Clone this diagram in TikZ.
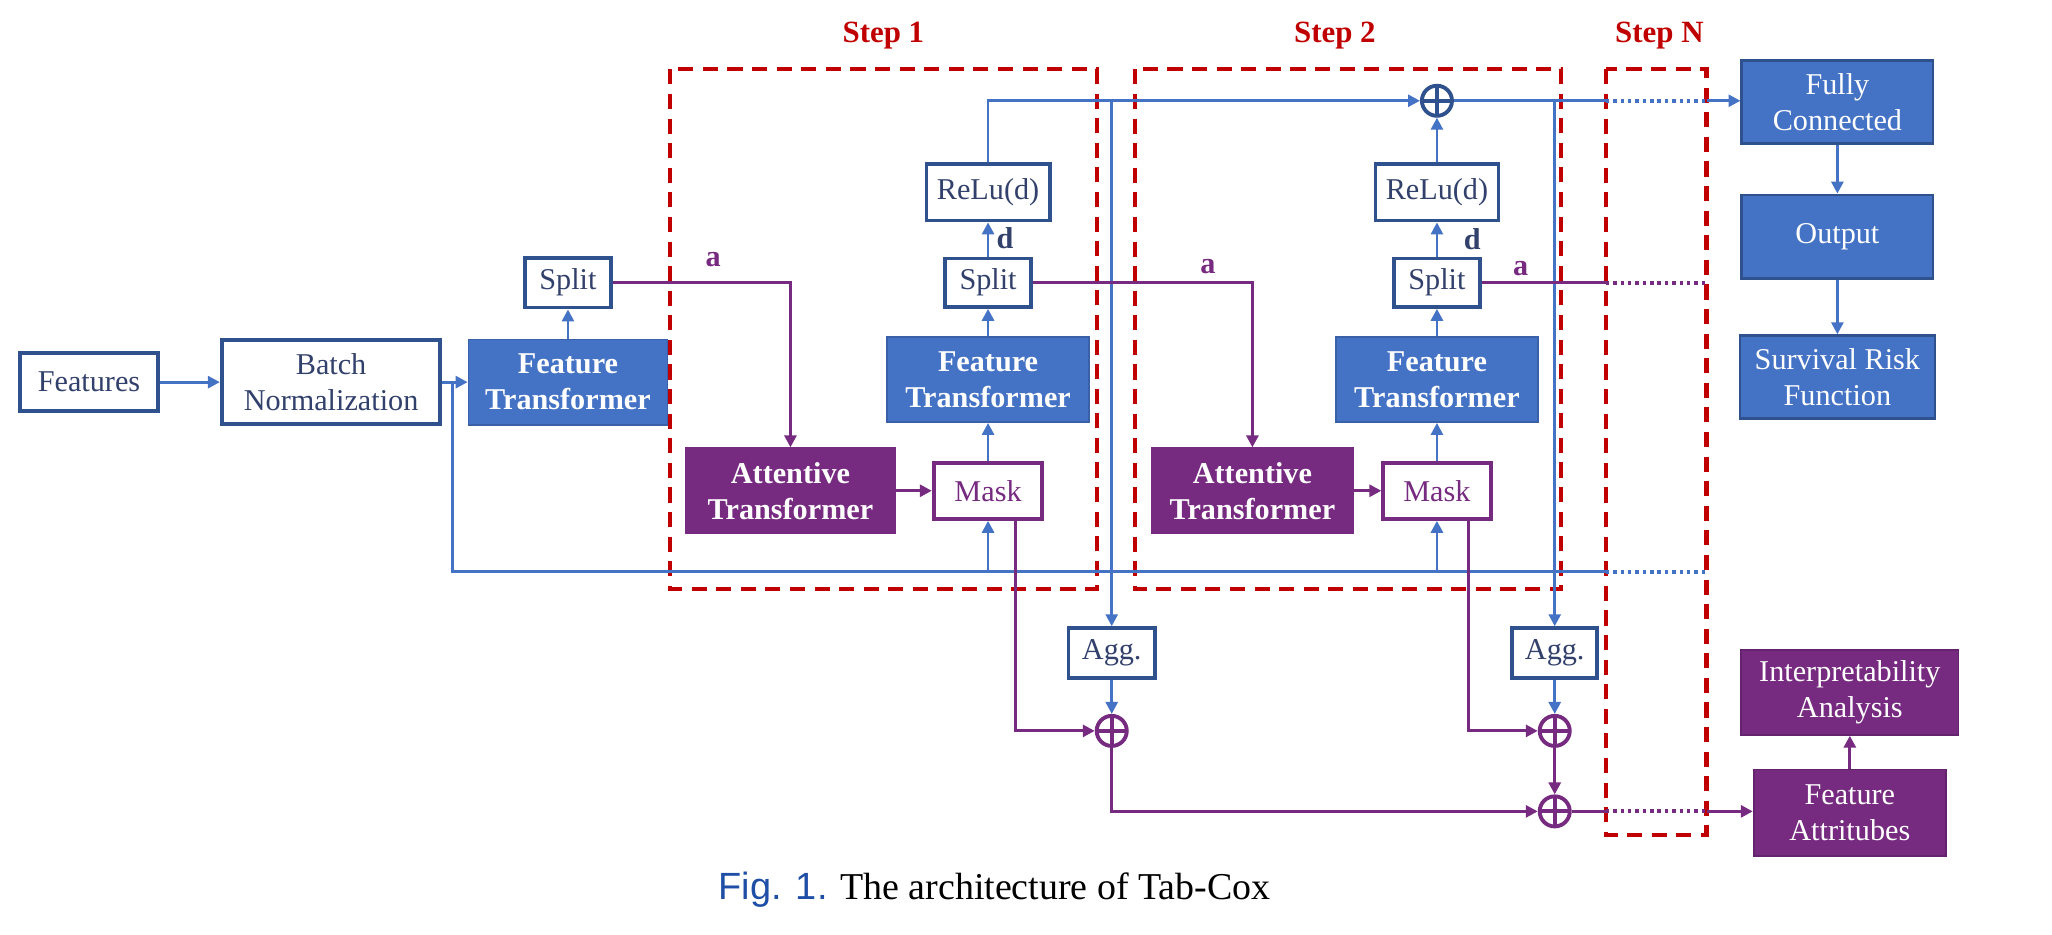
\documentclass[tikz,border=0pt]{standalone}
\usepackage{fontspec}
\setmainfont{Liberation Serif}
\newfontfamily\capsans{Liberation Sans}
\usepackage{tikz}
\usetikzlibrary{positioning, arrows.meta, calc}

\definecolor{ftblue}{RGB}{68,114,196}
\definecolor{navy}{RGB}{47,82,143}
\definecolor{navytext}{RGB}{50,64,108}
\definecolor{atpurple}{RGB}{118,42,128}
\definecolor{stepred}{RGB}{192,0,0}
\definecolor{figblue}{RGB}{30,78,165}
\newcommand{\unitpx}{0.013087cm}

\tikzset{
  sz/.style 2 args={minimum width=#1*\unitpx, minimum height=#2*\unitpx},
  every node/.style={font=\fontsize{8.6}{10.3}\selectfont, align=center, inner sep=0pt},
  plainbox/.style={draw=navy, line width=1.1pt, fill=white, text=navytext},
  ftbox/.style={fill=ftblue, draw=ftblue!85!black, line width=0.5pt, text=white, font=\fontsize{8.6}{10.3}\selectfont\bfseries},
  headbox/.style={fill=ftblue, draw=navy, line width=0.8pt, text=white},
  atbox/.style={fill=atpurple, draw=atpurple, line width=0.5pt, text=white, font=\fontsize{8.6}{10.3}\selectfont\bfseries},
  maskbox/.style={draw=atpurple, line width=1.1pt, fill=white, text=atpurple},
  attrbox/.style={fill=atpurple, draw=atpurple!85!black, line width=0.5pt, text=white},
  sumnode/.style={circle, draw=#1, line width=1.1pt, fill=white, minimum size=23*\unitpx,
    path picture={\draw[#1, line width=1.1pt] (path picture bounding box.north) -- (path picture bounding box.south)
      (path picture bounding box.west) -- (path picture bounding box.east);}},
  blueline/.style={draw=ftblue, line width=0.8pt},
  purpleline/.style={draw=atpurple, line width=0.9pt},
  arr/.style={-{Triangle[length=3.4pt,width=3.4pt]}},
  dotline/.style={line width=1.1pt, dash pattern=on 1pt off 1.1pt},
  stepbox/.style={draw=stepred, line width=1.2pt, dash pattern=on 4.3pt off 2.7pt},
  steplabel/.style={text=stepred, font=\fontsize{8.8}{10.5}\selectfont\bfseries},
  alabel/.style={text=atpurple, font=\fontsize{8.6}{10.3}\selectfont\bfseries},
  dlabel/.style={text=navytext, font=\fontsize{8.6}{10.3}\selectfont\bfseries}
}

\begin{document}
\begin{tikzpicture}[x=\unitpx, y=-\unitpx]
  \useasboundingbox (0,0) rectangle (1568,714);

  \draw[stepbox] (512,53) rectangle (838,450);
  \draw[stepbox] (867,53) rectangle (1193,450);
  \draw[stepbox] (1227,53) rectangle (1304,638);
  \node[steplabel] (lab1) at (675,27) {Step 1};
  \node[steplabel] (lab2) at (1020,27) {Step 2};
  \node[steplabel] (labN) at (1268,27) {Step N};

  \node[plainbox, sz={106}{44}] (feat) at (68,292) {Features};
  \node[plainbox, sz={167}{64}] (bn) at (253,292) {Batch\\Normalization};
  \node[ftbox, sz={152}{65}] (ft0) at (434,292) {Feature\\Transformer};
  \node[plainbox, sz={66}{38}] (sp0) at (434,216) {Split};

  \node[atbox, sz={160}{65}] (at1) at (604,375) {Attentive\\Transformer};
  \node[maskbox, sz={83}{43}] (mk1) at (755,375) {Mask};
  \node[ftbox, sz={154}{65}] (ft1) at (755,290) {Feature\\Transformer};
  \node[plainbox, sz={66}{37}] (sp1) at (755,216) {Split};
  \node[plainbox, sz={94}{43}] (re1) at (755,147) {ReLu(d)};

  \node[atbox, sz={154}{65}] (at2) at (957,375) {Attentive\\Transformer};
  \node[maskbox, sz={82}{43}] (mk2) at (1098,375) {Mask};
  \node[ftbox, sz={154}{65}] (ft2) at (1098,290) {Feature\\Transformer};
  \node[plainbox, sz={66}{37}] (sp2) at (1098,216) {Split};
  \node[plainbox, sz={94}{43}] (re2) at (1098,147) {ReLu(d)};
  \node[sumnode=navy] (plus0) at (1098,77) {};

  \node[plainbox, sz={66}{38}] (agg1) at (849.5,499) {Agg.};
  \node[plainbox, sz={65}{38}] (agg2) at (1188,499) {Agg.};
  \node[sumnode=atpurple] (pa1) at (849.5,558.5) {};
  \node[sumnode=atpurple] (pa2) at (1188,558.5) {};
  \node[sumnode=atpurple] (pb) at (1188,620) {};

  \node[headbox, sz={146}{63}] (fc) at (1404,78) {Fully\\Connected};
  \node[headbox, sz={146}{64}] (out) at (1404,181) {Output};
  \node[headbox, sz={149}{63}] (srf) at (1404,288) {Survival Risk\\Function};
  \node[attrbox, sz={166}{65}] (ia) at (1413.5,529) {Interpretability\\Analysis};
  \node[attrbox, sz={147}{66}] (fa) at (1413.5,621) {Feature\\Attritubes};

  \node[alabel] (a0) at (545,198) {a};
  \node[alabel] (a1) at (923,204) {a};
  \node[alabel] (a2) at (1162,205) {a};
  \node[dlabel] (d1) at (768,182) {d};
  \node[dlabel] (d2) at (1125,183) {d};

  \coordinate (jn) at (346,292);
  \coordinate (bl1) at (1227,437);
  \coordinate (bl2) at (1304,437);
  \coordinate (tl1) at (1227,77);
  \coordinate (tl2) at (1304,77);
  \coordinate (pl1) at (1227,216);
  \coordinate (pl2) at (1304,216);
  \coordinate (ql1) at (1227,620);
  \coordinate (ql2) at (1304,620);

  \draw[blueline, arr] (feat) -- (bn);
  \draw[blueline, arr] (bn) -- (ft0);
  \draw[blueline] (jn) |- (bl1);
  \draw[blueline, dotline] (bl1) -- (bl2);
  \draw[blueline, arr] (mk1.south |- bl1) -- (mk1.south);
  \draw[blueline, arr] (mk2.south |- bl1) -- (mk2.south);
  \draw[blueline, arr] (ft0) -- (sp0);
  \draw[blueline, arr] (mk1) -- (ft1);
  \draw[blueline, arr] (ft1) -- (sp1);
  \draw[blueline, arr] (sp1) -- (re1);
  \draw[blueline, arr] (mk2) -- (ft2);
  \draw[blueline, arr] (ft2) -- (sp2);
  \draw[blueline, arr] (sp2) -- (re2);
  \draw[blueline, arr] (re2) -- (plus0);
  \draw[blueline, arr] (re1.north) |- (plus0.west);
  \draw[blueline] (plus0.east) -- (tl1);
  \draw[blueline, dotline] (tl1) -- (tl2);
  \draw[blueline, arr] (tl2) -- (fc.west |- tl2);
  \draw[blueline, arr] (agg1.north |- plus0) -- (agg1.north);
  \draw[blueline, arr] (agg2.north |- plus0) -- (agg2.north);
  \draw[blueline, arr] (agg1) -- (pa1);
  \draw[blueline, arr] (agg2) -- (pa2);
  \draw[blueline, arr] (fc) -- (out);
  \draw[blueline, arr] (out) -- (srf);

  \draw[purpleline, arr] (sp0.east) -| (at1.north);
  \draw[purpleline, arr] (sp1.east) -| (at2.north);
  \draw[purpleline, arr] (at1) -- (mk1);
  \draw[purpleline, arr] (at2) -- (mk2);
  \draw[purpleline] (sp2.east) -- (pl1);
  \draw[purpleline, dotline] (pl1) -- (pl2);
  \draw[purpleline, arr] ($(mk1.south)+(21,0)$) |- (pa1.west);
  \draw[purpleline, arr] ($(mk2.south)+(24,0)$) |- (pa2.west);
  \draw[purpleline, arr] (pa1.south) |- (pb.west);
  \draw[purpleline, arr] (pa2) -- (pb);
  \draw[purpleline] (pb.east) -- (ql1);
  \draw[purpleline, dotline] (ql1) -- (ql2);
  \draw[purpleline, arr] (ql2) -- (fa.west |- ql2);
  \draw[purpleline, arr] (fa) -- (ia);

  \node[font=\fontsize{10.8}{13}\selectfont] (cap) at (760,680)
    {{\capsans\color{figblue}Fig. 1.} The architecture of Tab-Cox};
\end{tikzpicture}
\end{document}
